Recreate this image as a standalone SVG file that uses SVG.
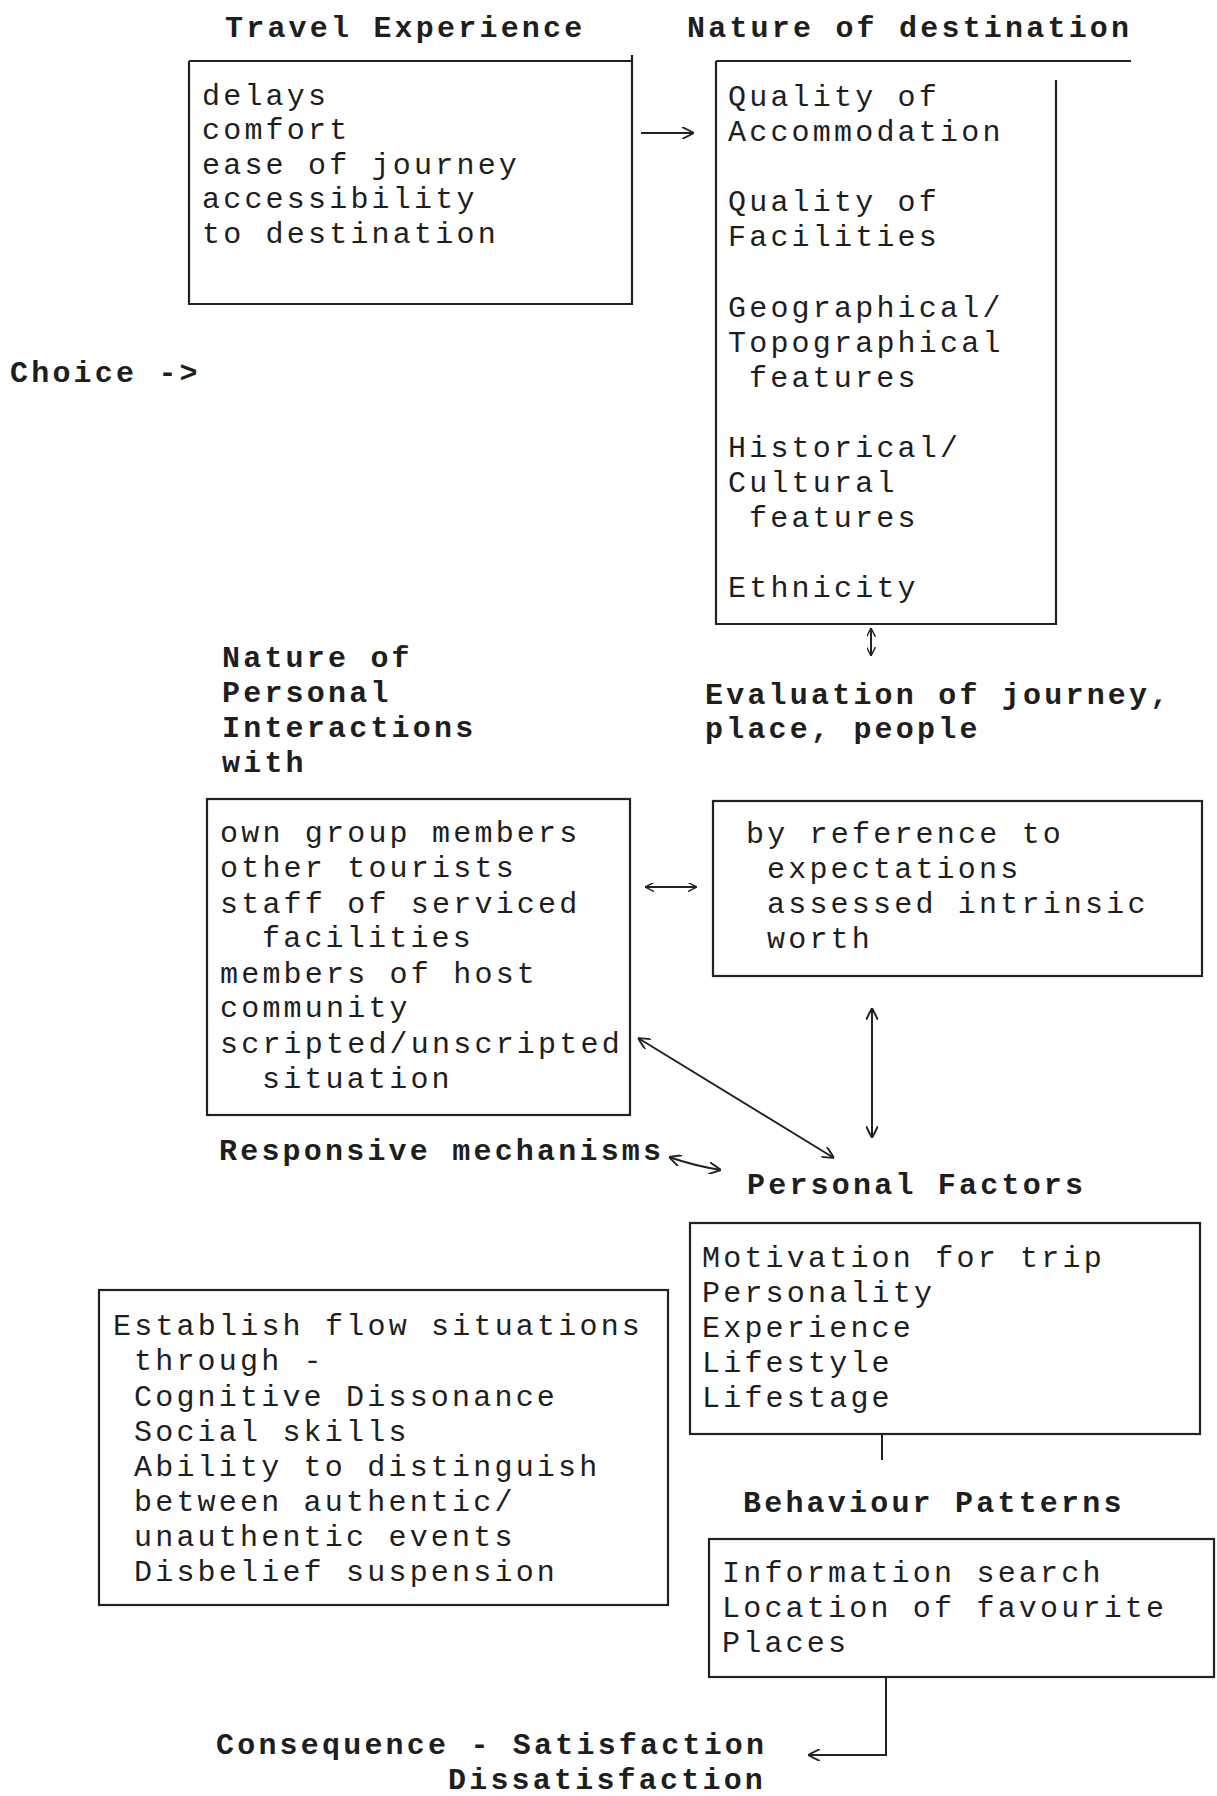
<svg xmlns="http://www.w3.org/2000/svg" width="1217" height="1796" viewBox="0 0 1217 1796">
<defs>
<style>
.t{font-family:"Liberation Mono","DejaVu Sans Mono",monospace;font-size:30px;letter-spacing:3.2px;fill:#1e1e1e}
.b{font-weight:bold}
.box{fill:none;stroke:#222;stroke-width:2.2}
.c{fill:none;stroke:#222;stroke-width:2}
</style>
<marker id="ah" viewBox="0 0 10 10" refX="10" refY="5" markerWidth="12" markerHeight="12" markerUnits="userSpaceOnUse" orient="auto-start-reverse">
<path d="M0,0 L10,5 L0,10" fill="none" stroke="#222" stroke-width="1.6"/>
</marker>
<marker id="ahs" viewBox="0 0 10 10" refX="10" refY="5" markerWidth="9" markerHeight="9" markerUnits="userSpaceOnUse" orient="auto-start-reverse">
<path d="M0,0 L10,5 L0,10" fill="none" stroke="#222" stroke-width="1.6"/>
</marker>
</defs>
<rect width="1217" height="1796" fill="#fff"/>

<g id="choice"><text class="t b" x="10" y="382">Choice -&gt;</text></g>

<g id="travel-experience">
<text class="t b" x="225" y="37">Travel Experience</text>
<path class="box" d="M189,61 H632 M632,55 V304 H189 V61"/>
<text class="t" x="202" y="105">delays</text>
<text class="t" x="202" y="139">comfort</text>
<text class="t" x="202" y="174">ease of journey</text>
<text class="t" x="202" y="208">accessibility</text>
<text class="t" x="202" y="243">to destination</text>
</g>

<g id="nature-of-destination">
<text class="t b" x="687" y="37">Nature of destination</text>
<path class="box" d="M716,61 H1131 M1056,80 V624 H715 M716,61 V624"/>
<text class="t" x="728" y="106">Quality of</text>
<text class="t" x="728" y="141">Accommodation</text>
<text class="t" x="728" y="211">Quality of</text>
<text class="t" x="728" y="246">Facilities</text>
<text class="t" x="728" y="317">Geographical/</text>
<text class="t" x="728" y="352">Topographical</text>
<text class="t" x="749" y="387">features</text>
<text class="t" x="728" y="457">Historical/</text>
<text class="t" x="728" y="492">Cultural</text>
<text class="t" x="749" y="527">features</text>
<text class="t" x="728" y="597">Ethnicity</text>
</g>

<g id="evaluation">
<text class="t b" x="705" y="704">Evaluation of journey,</text>
<text class="t b" x="705" y="738">place, people</text>
</g>

<g id="personal-interactions">
<text class="t b" x="222" y="667">Nature of</text>
<text class="t b" x="222" y="702">Personal</text>
<text class="t b" x="222" y="737">Interactions</text>
<text class="t b" x="222" y="772">with</text>
<rect class="box" x="207" y="799" width="423" height="316"/>
<text class="t" x="220" y="842">own group members</text>
<text class="t" x="220" y="877">other tourists</text>
<text class="t" x="220" y="913">staff of serviced</text>
<text class="t" x="262" y="947">facilities</text>
<text class="t" x="220" y="983">members of host</text>
<text class="t" x="220" y="1017">community</text>
<text class="t" x="220" y="1053">scripted/unscripted</text>
<text class="t" x="262" y="1088">situation</text>
</g>

<g id="expectations">
<rect class="box" x="713" y="801" width="489" height="175"/>
<text class="t" x="746" y="843">by reference to</text>
<text class="t" x="767" y="878">expectations</text>
<text class="t" x="767" y="913">assessed intrinsic</text>
<text class="t" x="767" y="948">worth</text>
</g>

<g id="responsive-mechanisms">
<text class="t b" x="219" y="1160">Responsive mechanisms</text>
</g>

<g id="personal-factors">
<text class="t b" x="747" y="1194">Personal Factors</text>
<rect class="box" x="690" y="1223" width="510" height="211"/>
<text class="t" x="702" y="1267">Motivation for trip</text>
<text class="t" x="702" y="1302">Personality</text>
<text class="t" x="702" y="1337">Experience</text>
<text class="t" x="702" y="1372">Lifestyle</text>
<text class="t" x="702" y="1407">Lifestage</text>
</g>

<g id="flow-situations">
<rect class="box" x="99" y="1290" width="569" height="315"/>
<text class="t" x="113" y="1335">Establish flow situations</text>
<text class="t" x="134" y="1370">through -</text>
<text class="t" x="134" y="1406">Cognitive Dissonance</text>
<text class="t" x="134" y="1441">Social skills</text>
<text class="t" x="134" y="1476">Ability to distinguish</text>
<text class="t" x="134" y="1511">between authentic/</text>
<text class="t" x="134" y="1546">unauthentic events</text>
<text class="t" x="134" y="1581">Disbelief suspension</text>
</g>

<g id="behaviour-patterns">
<text class="t b" x="743" y="1512">Behaviour Patterns</text>
<rect class="box" x="709" y="1539" width="505" height="138"/>
<text class="t" x="722" y="1582">Information search</text>
<text class="t" x="722" y="1617">Location of favourite</text>
<text class="t" x="722" y="1652">Places</text>
</g>

<g id="consequence">
<text class="t b" x="216" y="1754">Consequence - Satisfaction</text>
<text class="t b" x="448" y="1789">Dissatisfaction</text>
</g>

<g id="connectors">
<line class="c" x1="641" y1="133" x2="694" y2="133" marker-end="url(#ah)"/>
<line class="c" x1="871" y1="628" x2="871" y2="656" marker-start="url(#ahs)" marker-end="url(#ahs)"/>
<line class="c" x1="645" y1="887" x2="697" y2="887" marker-start="url(#ahs)" marker-end="url(#ahs)"/>
<line class="c" x1="872" y1="1008" x2="872" y2="1138" marker-start="url(#ah)" marker-end="url(#ah)"/>
<line class="c" x1="638" y1="1038" x2="834" y2="1158" marker-start="url(#ah)" marker-end="url(#ah)"/>
<path class="c" d="M669,1157 Q695,1166 721,1170" marker-start="url(#ah)" marker-end="url(#ah)"/>
<line class="c" x1="882" y1="1434" x2="882" y2="1460"/>
<path class="c" d="M886,1677 V1755 H808" marker-end="url(#ah)"/>
</g>
</svg>
